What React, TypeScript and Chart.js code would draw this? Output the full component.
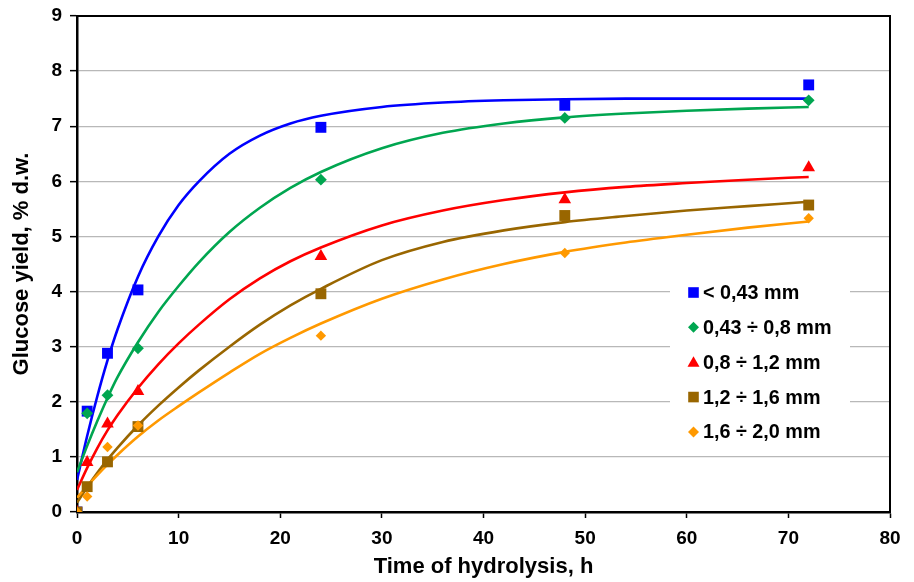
import React, { useEffect, useRef } from "react";
import { Chart, registerables } from "chart.js";

Chart.register(...registerables);

// ---- data ----
const sampleHours = [0, 1, 3, 6, 24, 48, 72];
const seriesLabels = ["< 0,43 mm", "0,43 ÷ 0,8 mm", "0,8 ÷ 1,2 mm", "1,2 ÷ 1,6 mm", "1,6 ÷ 2,0 mm"];
const yieldLt043 = [0, 1.83, 2.88, 4.03, 6.98, 7.38, 7.75];
const yield043to08 = [0, 1.79, 2.12, 2.97, 6.03, 7.15, 7.47];
const yield08to12 = [0, 0.9, 1.6, 2.19, 4.64, 5.67, 6.25];
const yield12to16 = [0, 0.46, 0.91, 1.55, 3.96, 5.38, 5.57];
const yield16to20 = [0, 0.28, 1.18, 1.57, 3.2, 4.7, 5.33];

// fitted trend curves
const fitHours = [0, 1, 2, 3, 4, 6, 8, 10, 12, 15, 18, 21, 24, 30, 36, 42, 48, 54, 60, 66, 72];
const fitLt043 = [0.58, 1.38, 2.1, 2.75, 3.32, 4.27, 5.0, 5.57, 6.0, 6.5, 6.83, 7.05, 7.19, 7.35, 7.43, 7.47, 7.49, 7.5, 7.5, 7.5, 7.5];
const fit043to08 = [0.72, 1.2, 1.65, 2.07, 2.45, 3.08, 3.63, 4.1, 4.53, 5.08, 5.52, 5.88, 6.17, 6.6, 6.88, 7.05, 7.16, 7.23, 7.28, 7.32, 7.35];
const fit08to12 = [0.4, 0.8, 1.16, 1.48, 1.76, 2.25, 2.68, 3.06, 3.4, 3.86, 4.24, 4.55, 4.8, 5.2, 5.47, 5.66, 5.8, 5.9, 5.97, 6.03, 6.08];
const fit12to16 = [0.17, 0.45, 0.71, 0.95, 1.17, 1.57, 1.93, 2.26, 2.57, 3.0, 3.4, 3.75, 4.05, 4.57, 4.9, 5.11, 5.26, 5.37, 5.47, 5.55, 5.63];
const fit16to20 = [0.26, 0.47, 0.67, 0.86, 1.04, 1.37, 1.66, 1.92, 2.17, 2.53, 2.87, 3.16, 3.42, 3.87, 4.22, 4.5, 4.72, 4.89, 5.03, 5.16, 5.27];

const xMin = 0;
const xMax = 80;
const xStep = 10;
const yMin = 0;
const yMax = 9;
const yStep = 1;

// ---- styles ----
const colors = ["#0000FF", "#00A650", "#FF0000", "#996600", "#FF9900"];
const pointStyles = ["rect", "rectRot", "triangle", "rect", "rectRot"];
const pointRadii = [7.7, 5.9, 7.3, 7.7, 5.2];
const FONT = 'Arial, "Liberation Sans", Helvetica, sans-serif';

const points = [yieldLt043, yield043to08, yield08to12, yield12to16, yield16to20];
const fits = [fitLt043, fit043to08, fit08to12, fit12to16, fit16to20];

function drawMarker(ctx: CanvasRenderingContext2D, style: string, x: number, y: number, r: number) {
  ctx.beginPath();
  if (style === "rect") {
    ctx.rect(x - r, y - r, 2 * r, 2 * r);
  } else if (style === "rectRot") {
    ctx.moveTo(x, y - r);
    ctx.lineTo(x + r, y);
    ctx.lineTo(x, y + r);
    ctx.lineTo(x - r, y);
    ctx.closePath();
  } else {
    ctx.moveTo(x, y - r);
    ctx.lineTo(x + r, y + r * 0.75);
    ctx.lineTo(x - r, y + r * 0.75);
    ctx.closePath();
  }
  ctx.fill();
}

const framePlugin = {
  id: "frameAndLegend",
  beforeDatasetsDraw(chart: any) {
    const { ctx, chartArea: a } = chart;
    ctx.save();
    ctx.strokeStyle = "#000";
    ctx.lineWidth = 2;
    ctx.beginPath();
    ctx.moveTo(a.left, a.top);
    ctx.lineTo(a.right, a.top);
    ctx.lineTo(a.right, a.bottom);
    ctx.stroke();

    const boxX = a.right - 220;
    const boxY = a.top + 256;
    ctx.fillStyle = "#FFFFFF";
    ctx.fillRect(boxX, boxY, 180, 178);
    const markerX = a.right - 196.5;
    const textX = a.right - 187;
    const row0 = a.top + 276.5;
    const gap = 34.85;
    ctx.font = `bold 19.8px ${FONT}`;
    ctx.textBaseline = "middle";
    ctx.textAlign = "left";
    for (let i = 0; i < seriesLabels.length; i++) {
      const y = row0 + i * gap;
      ctx.fillStyle = colors[i];
      const st = pointStyles[i];
      drawMarker(ctx, st, markerX, y, st === "rect" ? 5.3 : st === "triangle" ? 6 : 5.5);
      ctx.fillStyle = "#000";
      ctx.fillText(seriesLabels[i], textX, y + 1);
    }
    ctx.restore();
  },
};

export default function App() {
  const canvasRef = useRef<HTMLCanvasElement | null>(null);

  useEffect(() => {
    if (!canvasRef.current) return;
    const datasets: any[] = [];
    for (let i = 0; i < points.length; i++) {
      datasets.push({
        label: seriesLabels[i],
        data: sampleHours.map((h, j) => ({ x: h, y: points[i][j] })),
        showLine: false,
        pointStyle: pointStyles[i],
        pointRadius: pointRadii[i],
        pointBackgroundColor: colors[i],
        pointBorderWidth: 0,
        borderColor: colors[i],
        backgroundColor: colors[i],
        order: 5 - i,
      });
    }
    for (let i = 0; i < fits.length; i++) {
      datasets.push({
        label: seriesLabels[i] + " fit",
        data: fitHours.map((h, j) => ({ x: h, y: fits[i][j] })),
        showLine: true,
        pointRadius: 0,
        borderColor: colors[i],
        borderWidth: 2.6,
        cubicInterpolationMode: "monotone",
        fill: false,
        order: 20 - i,
      });
    }

    const chart = new Chart(canvasRef.current, {
      type: "scatter",
      data: { datasets },
      options: {
        animation: false,
        responsive: false,
        maintainAspectRatio: false,
        layout: { padding: { left: 0, top: 16, right: 24, bottom: 0 } },
        plugins: {
          legend: { display: false },
          tooltip: { enabled: false },
        },
        scales: {
          x: {
            type: "linear",
            min: xMin,
            max: xMax,
            ticks: {
              stepSize: xStep,
              color: "#000",
              font: { family: FONT, size: 19, weight: "bold" },
              padding: 9,
            },
            grid: {
              drawOnChartArea: false,
              drawTicks: true,
              tickLength: 6,
              tickColor: "#000",
              tickWidth: 1.5,
            },
            border: { display: true, color: "#000", width: 2.5 },
            title: {
              display: true,
              text: "Time of hydrolysis, h",
              color: "#000",
              font: { family: FONT, size: 22, weight: "bold", lineHeight: 1.2 },
              padding: { top: 0, bottom: 2 },
            },
            afterFit(scale: any) {
              scale.height = 70;
              scale.paddingLeft = 0;
              scale.paddingRight = 0;
            },
          },
          y: {
            type: "linear",
            min: yMin,
            max: yMax,
            ticks: {
              stepSize: yStep,
              color: "#000",
              font: { family: FONT, size: 19, weight: "bold" },
              padding: 8,
            },
            grid: {
              color: "#B8B8B8",
              lineWidth: 1.3,
              drawTicks: true,
              tickLength: 7,
              tickColor: "#000",
              tickWidth: 1.5,
            },
            border: { display: true, color: "#000", width: 2.5 },
            title: {
              display: true,
              text: "Glucose yield, % d.w.",
              color: "#000",
              font: { family: FONT, size: 22, weight: "bold", lineHeight: 1.2 },
              padding: { top: 9, bottom: 0 },
            },
            afterFit(scale: any) {
              scale.width = 77;
              scale.paddingTop = 0;
              scale.paddingBottom = 0;
            },
          },
        },
      },
      plugins: [framePlugin],
    } as any);

    return () => chart.destroy();
  }, []);

  return (
    <div style={{ position: "absolute", left: 0, top: 0, width: 914, height: 582, background: "#fff" }}>
      <canvas ref={canvasRef} width={914} height={582} style={{ display: "block", width: 914, height: 582 }} />
    </div>
  );
}
